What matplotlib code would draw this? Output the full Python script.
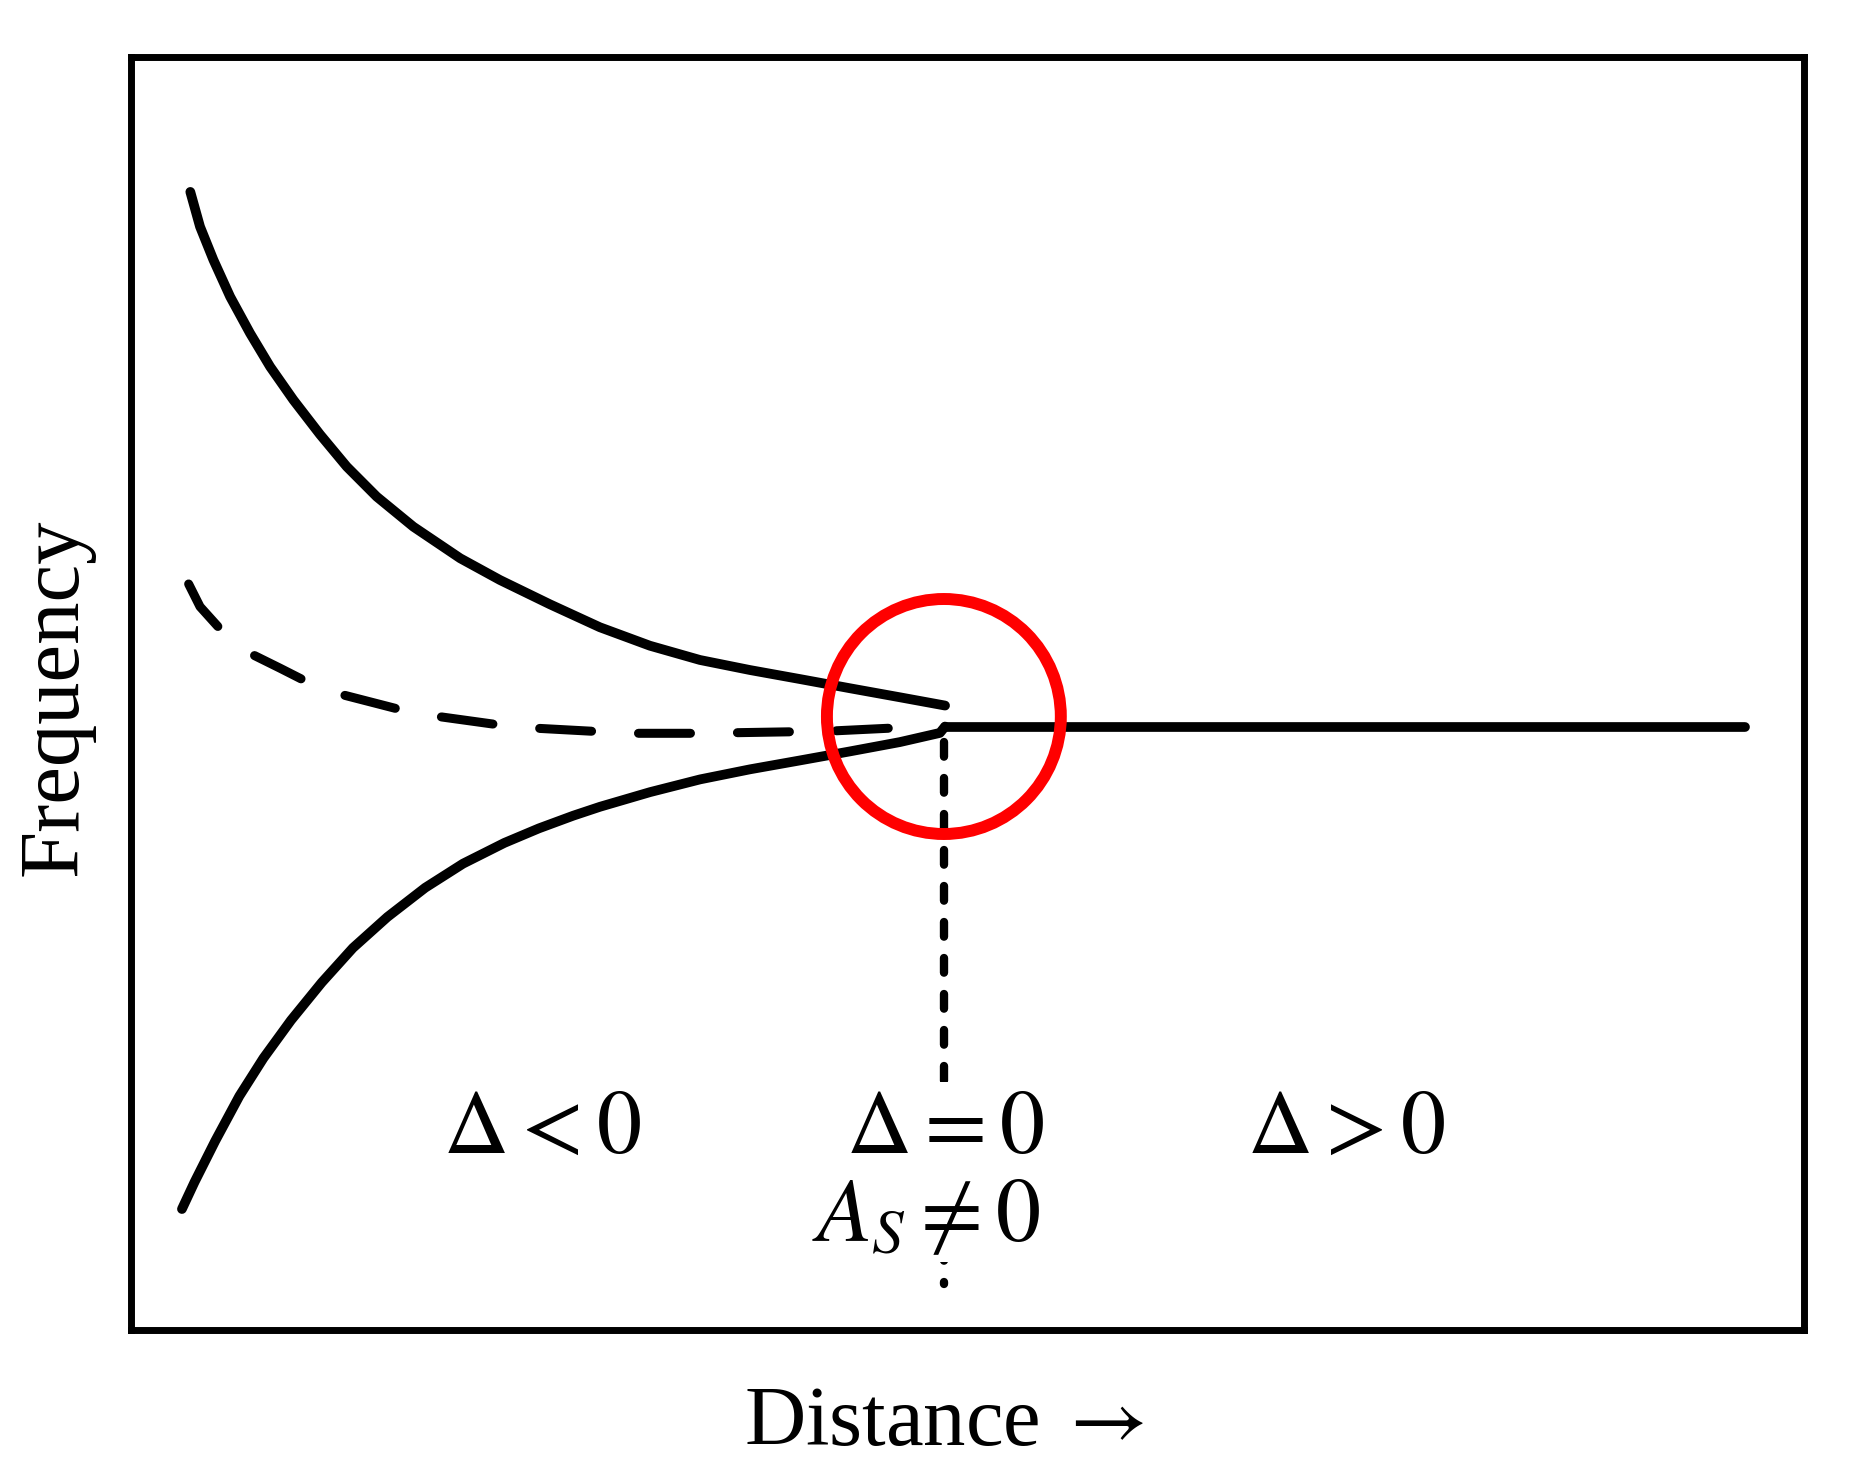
import numpy as np
import matplotlib
matplotlib.use("Agg")
import matplotlib.pyplot as plt
from matplotlib.patches import Ellipse

plt.rcParams['mathtext.fontset'] = 'stix'
SERIF = ['Liberation Serif', 'DejaVu Serif']

# upper branch (Delta < 0)
upper_x = [0.355, 0.413, 0.493, 0.593, 0.712, 0.832, 0.971, 1.130, 1.290, 1.469,
           1.688, 1.968, 2.206, 2.505, 2.803, 3.102, 3.401, 3.700, 3.999, 4.297,
           4.596, 4.866]
upper_y = [8.940, 8.667, 8.406, 8.117, 7.830, 7.567, 7.306, 7.035, 6.782, 6.546,
           6.310, 6.062, 5.891, 5.700, 5.520, 5.375, 5.263, 5.184, 5.113, 5.041,
           4.970, 4.905]

# lower branch (Delta < 0)
lower_x = [0.305, 0.380, 0.504, 0.648, 0.792, 0.957, 1.141, 1.327, 1.533, 1.759,
           1.985, 2.232, 2.438, 2.644, 2.804, 3.103, 3.402, 3.700, 3.999, 4.298,
           4.596, 4.835, 4.866]
lower_y = [0.950, 1.161, 1.485, 1.837, 2.135, 2.433, 2.730, 3.001, 3.244, 3.474,
           3.663, 3.826, 3.940, 4.040, 4.110, 4.225, 4.325, 4.404, 4.474, 4.545,
           4.618, 4.690, 4.740]

# flat branch (Delta > 0)
flat_x = [4.866, 9.650]
flat_y = [4.740, 4.740]

# dashed branch
dash_x = [0.345, 0.413, 0.539, 0.732, 0.892, 1.051, 1.270, 1.619, 1.848, 2.206,
          2.435, 2.814, 3.033, 3.401, 3.630, 3.999, 4.218, 4.596]
dash_y = [5.860, 5.682, 5.498, 5.302, 5.198, 5.092, 4.988, 4.870, 4.817, 4.752,
          4.726, 4.699, 4.687, 4.687, 4.692, 4.700, 4.707, 4.731]

# critical point
crit_x = 4.859
crit_top, crit_bottom = 4.62, 0.36
circle_center = (4.859, 4.819)
circle_w, circle_h = 1.398, 1.846

labels = [r'$\Delta < 0$', r'$\Delta = 0$', r'$\Delta > 0$']
label_x = [2.455, 4.868, 7.265]
label_y = 1.589

fig = plt.figure(figsize=(18.65, 14.72), dpi=100)
ax = fig.add_axes([0.0702, 0.0965, 0.8971, 0.8648])
ax.set_xlim(0, 10)
ax.set_ylim(0, 10)
ax.set_xticks([])
ax.set_yticks([])
for sp in ax.spines.values():
    sp.set_linewidth(5)

lw = 7
ax.plot(upper_x, upper_y, color='black', lw=lw, solid_capstyle='round',
        solid_joinstyle='round')
ax.plot(lower_x, lower_y, color='black', lw=lw, solid_capstyle='round',
        solid_joinstyle='round')
ax.plot(flat_x, flat_y, color='black', lw=lw, solid_capstyle='round')
ax.plot(dash_x, dash_y, color='black', lw=6.5, dashes=(5.76, 5.2),
        dash_capstyle='round', dash_joinstyle='round')
ax.plot([crit_x, crit_x], [crit_top, crit_bottom], color='black', lw=6,
        dashes=(1.76, 2.56), dash_capstyle='round')

ax.add_patch(Ellipse(circle_center, circle_w, circle_h, fill=False,
                     edgecolor='#ff0000', lw=8.6, zorder=5))

for t, x in zip(labels, label_x):
    ax.text(x, label_y, t, fontsize=65, ha='center', va='center', zorder=6,
            bbox=dict(fc='white', ec='none', pad=1))
ax.text(4.755, 0.897, r'$A_S \neq 0$', fontsize=65, ha='center', va='center',
        zorder=6, bbox=dict(fc='white', ec='none', pad=1))

fig.text(0.5060, 0.0183, 'Distance$\\;\\rightarrow$', fontsize=61, family=SERIF,
         ha='center', va='baseline')
fig.text(0.0408, 0.526, 'Frequency', fontsize=61, family=SERIF, rotation=90,
         rotation_mode='anchor', ha='center', va='baseline')

fig.savefig('out.png', dpi=100)
